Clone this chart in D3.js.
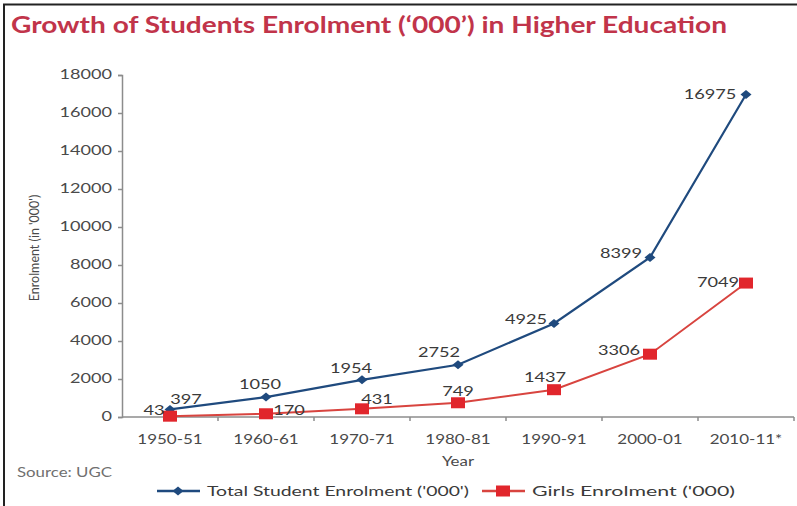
<!DOCTYPE html>
<html>
<head>
<meta charset="utf-8">
<script src="https://cdn.jsdelivr.net/npm/d3@7"></script>
<style>
  html, body { margin: 0; padding: 0; background: #fff; }
  svg { display: block; }
  text { font-family: Lato, "Open Sans", sans-serif; }
</style>
</head>
<body>
<svg id="chart" width="797" height="506"></svg>
<script>
// Enrolment in higher education, thousands
const years = ["1950-51", "1960-61", "1970-71", "1980-81", "1990-91", "2000-01", "2010-11*"];
const totalEnrolment = [397, 1050, 1954, 2752, 4925, 8399, 16975];
const girlsEnrolment = [43, 170, 431, 749, 1437, 3306, 7049];
const yTicks = [0, 2000, 4000, 6000, 8000, 10000, 12000, 14000, 16000, 18000];

// offset of each value label's centre from its point, in px
const totalLabelOffset = [[16, -11], [-6, -13], [-11, -12], [-19, -13], [-28, -4], [-29, -4], [-36, -1]];
const girlsLabelOffset = [[-16, -6], [23, -4], [15, -10], [0, -12], [-9, -13], [-31, -4], [-28, -1]];

const svg = d3.select("#chart");
const W = 797, H = 506;
const SX = 1.3; // horizontal text stretch

// text placed at (x, y) and stretched horizontally
function stretchedText(parent, x, y, str, sx) {
  return parent.append("text")
    .attr("transform", `translate(${x},${y}) scale(${sx},1)`)
    .text(str);
}

// outer frame (top and left edges)
svg.append("line").attr("x1", 3).attr("x2", W).attr("y1", 4.5).attr("y2", 4.5)
  .attr("stroke", "#222").attr("stroke-width", 2);
svg.append("line").attr("x1", 4).attr("x2", 4).attr("y1", 4).attr("y2", H)
  .attr("stroke", "#222").attr("stroke-width", 2);

// title
svg.append("text")
  .attr("x", 11).attr("y", 33)
  .attr("fill", "#c1344a")
  .attr("font-size", 22)
  .attr("font-weight", "bold")
  .attr("textLength", 716).attr("lengthAdjust", "spacingAndGlyphs")
  .text("Growth of Students Enrolment (\u2018000\u2019) in Higher Education");

const plot = { left: 122, right: 794, top: 75, bottom: 417 };

const x = d3.scaleBand().domain(years).range([plot.left, plot.right]).padding(0);
const y = d3.scaleLinear().domain([0, 18000]).range([plot.bottom, plot.top]);
const cx = d => x(d) + x.bandwidth() / 2;

const axisColor = "#8c8c8c";
const tickText = "#4a4a4a";

// y axis
const yAxis = svg.append("g").attr("transform", `translate(${plot.left},0)`)
  .call(d3.axisLeft(y).tickValues(yTicks).tickSize(4).tickFormat(""));
yAxis.select(".domain").attr("stroke", axisColor).attr("stroke-width", 1.5);
yAxis.selectAll(".tick line").attr("stroke", axisColor).attr("stroke-width", 1.5);
const yLabels = svg.append("g").attr("fill", tickText).attr("font-size", 12.5).attr("text-anchor", "end");
yTicks.forEach(t => {
  stretchedText(yLabels, plot.left - 10, y(t), d3.format("d")(t), 1.45).attr("dy", "0.35em");
});

// x axis: ticks sit at the category boundaries
const xAxisG = svg.append("g").attr("transform", `translate(0,${plot.bottom})`);
xAxisG.append("line").attr("x1", plot.left).attr("x2", plot.right)
  .attr("stroke", axisColor).attr("stroke-width", 1.5);
xAxisG.selectAll("line.tk").data(years).join("line").attr("class", "tk")
  .attr("x1", d => x(d) + x.bandwidth()).attr("x2", d => x(d) + x.bandwidth())
  .attr("y1", 0).attr("y2", 4).attr("stroke", axisColor).attr("stroke-width", 1.5);
const xLabels = xAxisG.append("g").attr("fill", tickText).attr("font-size", 13.5).attr("text-anchor", "middle");
years.forEach(d => stretchedText(xLabels, cx(d), 27, d, 1.26));

// axis titles
stretchedText(svg, (plot.left + plot.right) / 2, 466, "Year", 1.3)
  .attr("text-anchor", "middle").attr("fill", tickText).attr("font-size", 13);
svg.append("text")
  .attr("transform", `translate(39,${(plot.top + plot.bottom) / 2 + 2}) rotate(-90)`)
  .attr("text-anchor", "middle").attr("fill", tickText).attr("font-size", 12.5)
  .text("Enrolment (in '000')");

svg.append("text").attr("x", 17).attr("y", 477).attr("fill", "#707070").attr("font-size", 13)
  .attr("textLength", 95).attr("lengthAdjust", "spacingAndGlyphs")
  .text("Source: UGC");

const blue = "#1f4a7e";
const red = "#e1262c";
const redLine = "#d8443f";

const line = d3.line().x((d, i) => cx(years[i])).y(d => y(d));

svg.append("path").datum(totalEnrolment).attr("d", line)
  .attr("fill", "none").attr("stroke", blue).attr("stroke-width", 2.2);
svg.append("path").datum(girlsEnrolment).attr("d", line)
  .attr("fill", "none").attr("stroke", redLine).attr("stroke-width", 2);

// diamond marker, slightly wider than tall
const diamondPath = "M0,-4.5L5.5,0L0,4.5L-5.5,0Z";

svg.selectAll("path.tm").data(totalEnrolment).join("path").attr("class", "tm")
  .attr("d", diamondPath)
  .attr("transform", (d, i) => `translate(${cx(years[i])},${y(d)})`)
  .attr("fill", blue);

svg.selectAll("rect.gm").data(girlsEnrolment).join("rect").attr("class", "gm")
  .attr("x", (d, i) => cx(years[i]) - 7).attr("y", d => y(d) - 5.5)
  .attr("width", 14).attr("height", 11).attr("fill", red);

// value labels
function addLabels(values, offsets) {
  const g = svg.append("g").attr("fill", "#3a3a3a").attr("font-size", 14).attr("text-anchor", "middle");
  values.forEach((v, i) => {
    stretchedText(g, cx(years[i]) + offsets[i][0], y(v) + offsets[i][1], v, SX).attr("dy", "0.36em");
  });
}
addLabels(totalEnrolment, totalLabelOffset);
addLabels(girlsEnrolment, girlsLabelOffset);

// legend
const legend = svg.append("g").attr("transform", "translate(0,491)");
legend.append("line").attr("x1", 157).attr("x2", 200).attr("stroke", blue).attr("stroke-width", 2.5);
legend.append("path").attr("d", diamondPath).attr("transform", "translate(178,0)").attr("fill", blue);
legend.append("text").attr("x", 207).attr("y", 5).attr("fill", "#3a3a3a").attr("font-size", 13.5)
  .attr("textLength", 262).attr("lengthAdjust", "spacingAndGlyphs")
  .text("Total Student Enrolment ('000')");
legend.append("line").attr("x1", 482).attr("x2", 525).attr("stroke", redLine).attr("stroke-width", 2.5);
legend.append("rect").attr("x", 496).attr("y", -5.5).attr("width", 14).attr("height", 11).attr("fill", red);
legend.append("text").attr("x", 532).attr("y", 5).attr("fill", "#3a3a3a").attr("font-size", 13.5)
  .attr("textLength", 203).attr("lengthAdjust", "spacingAndGlyphs")
  .text("Girls Enrolment ('000)");
</script>
</body>
</html>
